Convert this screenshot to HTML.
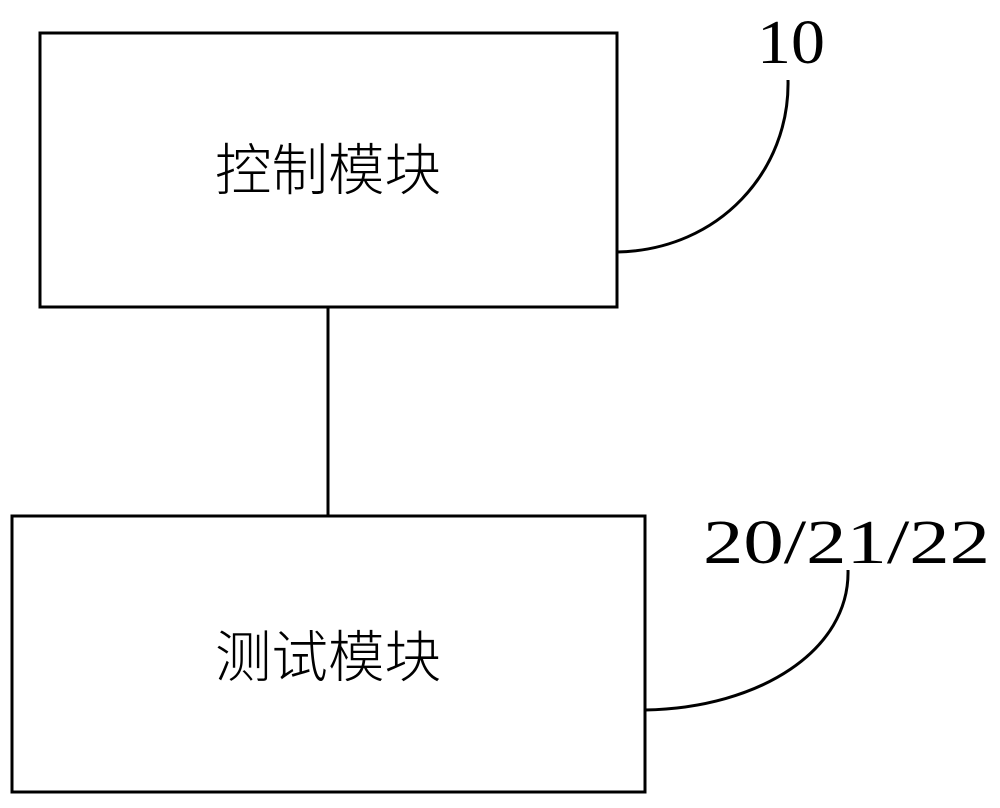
<!DOCTYPE html>
<html><head><meta charset="utf-8"><style>html,body{margin:0;padding:0;background:#fff}</style></head>
<body>
<svg width="1000" height="803" viewBox="0 0 1000 803" xmlns="http://www.w3.org/2000/svg">
<g fill="none" stroke="#000" stroke-width="3">
<rect x="40" y="33" width="577" height="274"/>
<rect x="12" y="516" width="633" height="276"/>
<line x1="328" y1="307" x2="328" y2="516"/>
<path d="M617 252 C 720 250, 790 170, 788 80"/>
<path d="M645 710 C 760 708, 850 650, 848 570"/>
</g>
<g font-family="'Liberation Serif','Noto Serif CJK SC',serif" fill="#000">
<text x="215" y="190" font-size="56" textLength="226" lengthAdjust="spacingAndGlyphs" font-family="'Liberation Sans','Noto Sans CJK SC',sans-serif" font-weight="300">控制模块</text>
<text x="215" y="677" font-size="56" textLength="226" lengthAdjust="spacingAndGlyphs" font-family="'Liberation Sans','Noto Sans CJK SC',sans-serif" font-weight="300">测试模块</text>
<text x="757" y="63" font-size="62" textLength="68" lengthAdjust="spacingAndGlyphs">10</text>
<text x="703" y="563" font-size="62" textLength="287" lengthAdjust="spacingAndGlyphs">20/21/22</text>
</g>
</svg>
</body></html>
